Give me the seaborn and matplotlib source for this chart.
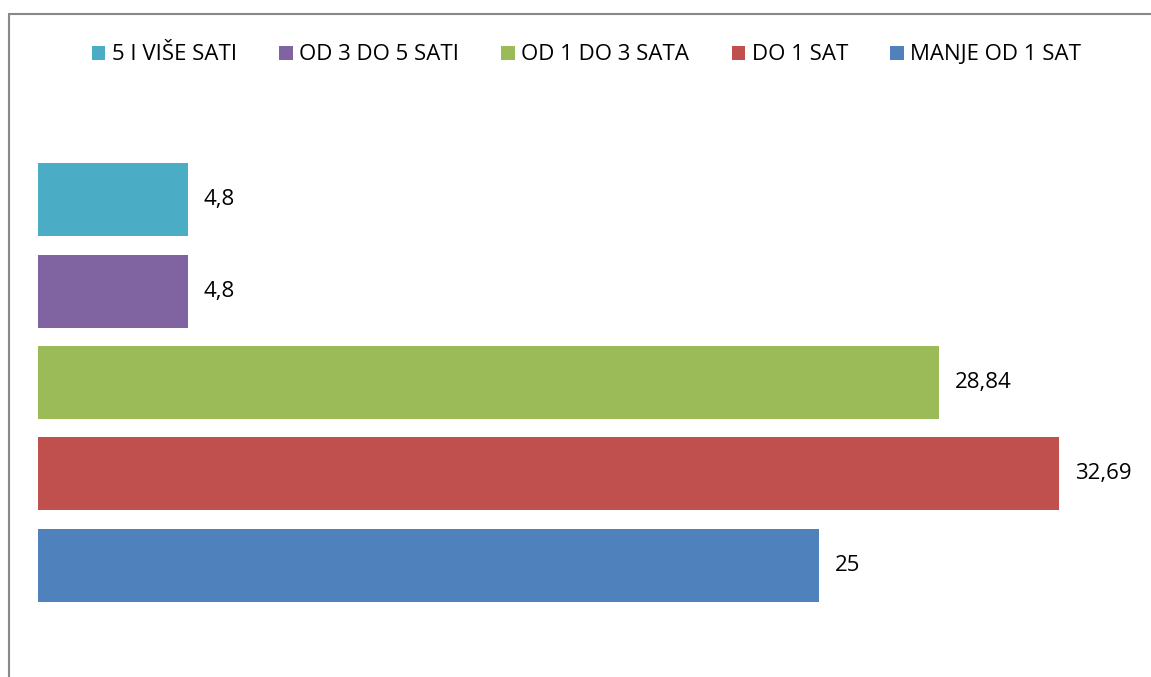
import matplotlib
matplotlib.use("Agg")
import matplotlib.pyplot as plt
import seaborn as sns
import pandas as pd
from matplotlib.lines import Line2D
from matplotlib.patches import Patch

categories = ["5 I VIŠE SATI", "OD 3 DO 5 SATI", "OD 1 DO 3 SATA", "DO 1 SAT", "MANJE OD 1 SAT"]
values = [4.8, 4.8, 28.84, 32.69, 25]
colors = ["#4BACC6", "#8064A2", "#9BBB59", "#C0504D", "#4F81BD"]

sns.set_style("white")
plt.rcParams["font.family"] = ["Open Sans", "DejaVu Sans"]
plt.rcParams["text.color"] = "black"

df = pd.DataFrame({"cat": categories, "val": values})

fig = plt.figure(figsize=(11.51, 6.77), dpi=100)
ax = fig.add_axes([38/1151, 1 - 611/677, 1093/1151, (611 - 154)/677])
sns.barplot(data=df, y="cat", x="val", hue="cat", order=categories, hue_order=categories,
            palette=colors, dodge=False, width=0.8, saturation=1, legend=False,
            linewidth=0, edgecolor="none", ax=ax)
ax.set_xlim(0, 35)
ax.set_ylim(4.5, -0.5)
ax.axis("off")

for cont, v in zip(ax.containers, values):
    labs = ax.bar_label(cont, labels=[f"{v:g}".replace(".", ",")], padding=11.5, fontsize=16, color="black")

handles = [Patch(facecolor=c, edgecolor="none") for c in colors]
fig.legend(handles, categories, loc="center", bbox_to_anchor=(0.5096, 1 - 55/677), ncol=5,
           frameon=False, fontsize=16, handlelength=0.6, handleheight=0.6, handletextpad=0.3,
           columnspacing=1.9, labelcolor="black")

# chart frame lines (left and top)
fig.add_artist(Line2D([8.5/1151, 8.5/1151], [0, 1 - 14/677], transform=fig.transFigure, color="#888888", lw=1.5))
fig.add_artist(Line2D([8.5/1151, 1], [1 - 14/677, 1 - 14/677], transform=fig.transFigure, color="#888888", lw=1.5))

fig.savefig("out.png", dpi=100)
